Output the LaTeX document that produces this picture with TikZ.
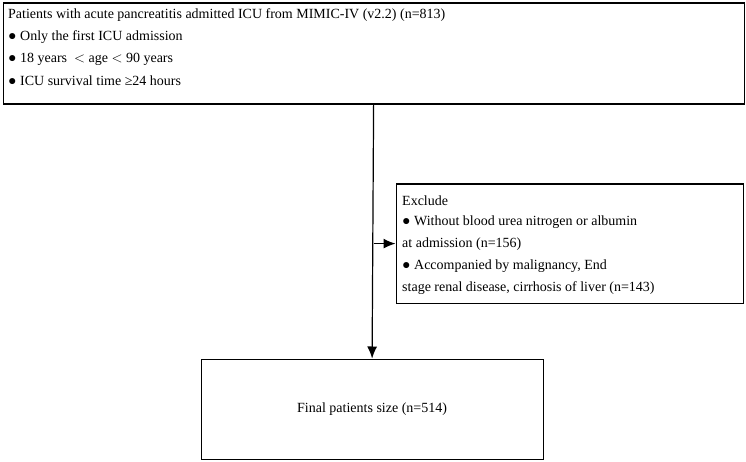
\documentclass[tikz,border=0pt]{standalone}
\usepackage{fontspec}
\setmainfont{Liberation Serif}
\usetikzlibrary{arrows.meta}
\begin{document}
\begin{tikzpicture}[x=1pt,y=-1pt,
  box/.style={draw,line width=1.2pt},
  txt/.style={anchor=west,inner sep=0pt,font=\fontsize{14}{16}\selectfont},
  arr/.style={draw,line width=1.2pt,-{Latex[length=12pt,width=10pt]}}]
\useasboundingbox (0,0) rectangle (746,462);
\node[box,minimum width=741,minimum height=101,anchor=north west] (top) at (2.5,2.5) {};
\node[txt] (t1) at (8,15) {Patients with acute pancreatitis admitted ICU from MIMIC-IV (v2.2) (n=813)};
\node[txt] (t2) at (8,37) {● Only the first ICU admission};
\node[txt] (t3) at (8,59) {● 18 years \ $<$ age $<$ 90 years};
\node[txt] (t4) at (8,81) {● ICU survival time ≥24 hours};
\node[box,minimum width=347,minimum height=119,anchor=north west] (ex) at (395.5,183.5) {};
\node[txt] (e1) at (402,201) {Exclude};
\node[txt] (e2) at (402,222) {● Without blood urea nitrogen or albumin};
\node[txt] (e3) at (402,244) {at admission (n=156)};
\node[txt] (e4) at (402,266) {● Accompanied by malignancy, End};
\node[txt] (e5) at (402,288) {stage renal disease, cirrhosis of liver (n=143)};
\node[box,minimum width=342,minimum height=100,anchor=north west] (fin) at (200.5,358.5) {};
\node[txt,anchor=center] (f1) at (fin.center) {Final patients size (n=514)};
\draw[arr] (top.south) -- (fin.north);
\draw[arr] (top.south |- ex.west) -- (ex.west);
\end{tikzpicture}
\end{document}
